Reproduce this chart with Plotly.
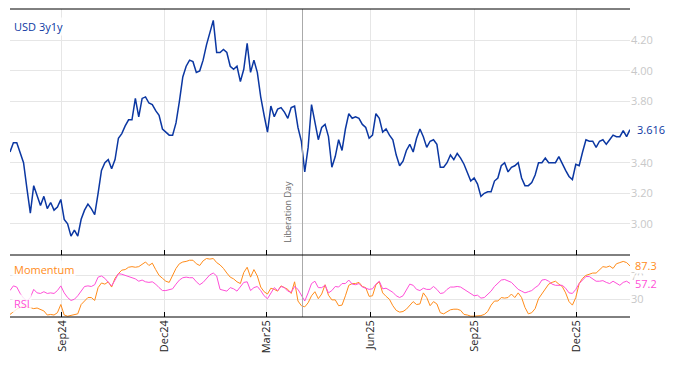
import pandas as pd
import plotly.graph_objects as go

# ---------------- data ----------------
start_date = "2024-07-17"
step = "3D"

usd_3y1y = [
    3.47, 3.53, 3.53, 3.47, 3.40, 3.23, 3.07, 3.25, 3.18, 3.12,
    3.18, 3.10, 3.14, 3.09, 3.11, 3.16, 3.03, 3.00, 2.92, 2.96,
    2.92, 3.03, 3.09, 3.13, 3.10, 3.06, 3.20, 3.35, 3.40, 3.42,
    3.36, 3.42, 3.56, 3.59, 3.64, 3.68, 3.68, 3.82, 3.70, 3.82,
    3.83, 3.79, 3.78, 3.74, 3.71, 3.62, 3.60, 3.58,
    3.58, 3.66, 3.80, 3.96, 4.03, 4.07, 4.06, 3.99, 4.00, 4.07,
    4.17, 4.26, 4.33, 4.12, 4.12, 4.14, 4.12, 4.03, 4.01, 4.03,
    3.93, 4.01, 4.18, 3.99, 4.07, 3.99, 3.83, 3.71, 3.60, 3.77,
    3.70, 3.75, 3.76, 3.73, 3.69, 3.76, 3.77, 3.63, 3.54, 3.34,
    3.50, 3.78, 3.66, 3.55, 3.63,
    3.65, 3.57, 3.37, 3.44, 3.55, 3.48, 3.62, 3.72, 3.69, 3.70,
    3.69, 3.65, 3.63, 3.56, 3.58, 3.72, 3.69, 3.60, 3.62, 3.58,
    3.55, 3.45, 3.38, 3.41, 3.48, 3.52, 3.47, 3.56, 3.62, 3.57,
    3.50, 3.54, 3.55, 3.52, 3.37, 3.37, 3.40, 3.45, 3.42, 3.46,
    3.43, 3.39, 3.33, 3.28, 3.30, 3.26,
    3.18, 3.20, 3.21, 3.21, 3.28, 3.30, 3.38, 3.40, 3.34, 3.37,
    3.38, 3.40, 3.30, 3.25, 3.25, 3.27, 3.32, 3.40, 3.40, 3.43,
    3.40, 3.40, 3.40, 3.44, 3.39, 3.35, 3.31, 3.29, 3.39, 3.38,
    3.47, 3.55, 3.54, 3.54, 3.50, 3.54, 3.55, 3.52, 3.55, 3.58,
    3.57, 3.57, 3.61, 3.57, 3.616,
]

momentum = [
    4, 9, 13, 16, 19, 17, 16, 14, 15, 12,
    10, 3, 4, 3, 7, 21, 3, 1, 2, 3,
    5, 21, 28, 33, 33, 28, 50, 58, 56, 60,
    51, 66, 74, 80, 81, 85, 86, 85, 86, 90,
    94, 88, 92, 81, 71, 66, 61, 59, 70, 83,
    91, 94, 95, 97, 97, 91, 88, 96, 100, 99,
    100, 93, 89, 83, 75, 68, 65, 60, 57, 76,
    85, 68, 81, 70, 51, 43, 39, 49, 47, 44,
    53, 50, 47, 40, 60, 27, 19, 17, 24, 36,
    43, 31, 39,
    55, 37, 29, 29, 19, 20, 36, 54, 57, 57,
    59, 52, 50, 35, 36, 55, 60, 41, 35, 30,
    19, 11, 8, 9, 13, 19, 26, 21, 22, 41,
    33, 19, 26, 22, 7, 5, 9, 12, 13, 13,
    11, 4, 3, 1, 1, 1, 2, 4, 9, 20,
    27, 27, 33, 32, 33, 39, 33, 41, 33, 16,
    5, 7, 14, 31, 40, 48, 56, 59, 61, 56,
    52, 41, 26, 20, 33, 57, 66, 71, 73, 75,
    75, 81, 86, 85, 87, 83, 91, 93, 95, 93,
    87.3,
]

rsi = [
    45, 53, 51, 40, 32, 27, 33, 47, 41, 40,
    43, 40, 41, 40, 45, 53, 41, 33, 28, 30,
    36, 43, 52, 53, 52, 55, 68, 70, 66, 59,
    53, 63, 74, 73, 71, 69, 66, 65, 61, 63,
    60, 59, 60, 56, 50, 45, 45, 46, 48, 56,
    63, 67, 68, 67, 67, 60, 55, 59, 66, 72,
    75, 70, 47, 45, 44, 50, 48, 44, 51, 59,
    60, 45, 50, 52, 45, 36, 31, 40, 50, 45,
    52, 50, 44, 42, 52, 47, 36, 27, 41, 57,
    61, 50, 50,
    54, 41, 45, 52, 51, 57, 57, 63, 56, 55,
    57, 51, 49, 47, 48, 56, 61, 48, 49, 46,
    42, 36, 33, 36, 45, 56, 54, 47, 45, 49,
    47, 47, 52, 47, 40, 41, 47, 51, 51, 52,
    51, 47, 43, 40, 36, 37, 32, 33, 39, 44,
    52, 58, 63, 64, 61, 59, 53, 47, 44, 41,
    43, 45, 50, 54, 63, 64, 61, 56, 54, 54,
    54, 49, 41, 40, 47, 57, 64, 69, 69, 65,
    61, 61, 62, 59, 57, 61, 58, 54, 59, 61,
    57.2,
]

x_tick_dates = ["2024-09-01", "2024-12-01", "2025-03-01", "2025-06-01", "2025-09-01", "2025-12-01"]
x_tick_labels = ["Sep24", "Dec24", "Mar25", "Jun25", "Sep25", "Dec25"]
y_ticks = [3.0, 3.2, 3.4, 3.6, 3.8, 4.0, 4.2]
# the 3.60 label is hidden behind the last-value tag in the reference
y_tick_labels = ["3.00", "3.20", "3.40", "", "3.80", "4.00", "4.20"]
y2_ticks = [30, 70]
y2_tick_labels = ["30", "70"]
event_date = "2025-04-02"
event_label = "Liberation Day"

dates = pd.date_range(start_date, periods=len(usd_3y1y), freq=step)

# ---------------- style ----------------
BLUE = "#0b37a2"
ORANGE = "#ff8c1a"
MAGENTA = "#ff4fd8"
GRID = "#e6e6e6"
TICKGREY = "#c8c8c8"
FONT = "Open Sans"
LABEL_BG = "rgba(255,255,255,0.8)"

fig = go.Figure()
fig.add_trace(go.Scatter(x=dates, y=usd_3y1y, mode="lines", line=dict(color=BLUE, width=1.5),
                         xaxis="x", yaxis="y", showlegend=False))
fig.add_trace(go.Scatter(x=dates, y=momentum, mode="lines", line=dict(color=ORANGE, width=1),
                         xaxis="x2", yaxis="y2", showlegend=False))
fig.add_trace(go.Scatter(x=dates, y=rsi, mode="lines", line=dict(color=MAGENTA, width=1),
                         xaxis="x2", yaxis="y2", showlegend=False))

split = (317 - 255) / (317 - 9)
xr = [dates[0], dates[-1]]

common_x = dict(range=xr, tickvals=x_tick_dates, showgrid=True, gridcolor=GRID, gridwidth=1,
                showline=False, ticks="inside", ticklen=5, tickcolor="black", zeroline=False)

hline = lambda yy: dict(type="line", xref="paper", yref="paper", x0=0, x1=1, y0=yy, y1=yy,
                        line=dict(color="black", width=1), layer="above")

fig.update_layout(
    width=674, height=366,
    margin=dict(l=2, r=52, t=1, b=57),
    paper_bgcolor="white", plot_bgcolor="white",
    font=dict(family=FONT, size=11),
    xaxis=dict(domain=[0, 1], anchor="y", showticklabels=False, **common_x),
    xaxis2=dict(domain=[0, 1], anchor="y2", matches="x", ticktext=x_tick_labels, tickangle=-90,
                tickfont=dict(color="#222222", size=11, family=FONT), **common_x),
    yaxis=dict(domain=[split, 1], anchor="x", side="right", range=[2.797, 4.404],
               tickvals=y_ticks, ticktext=y_tick_labels,
               tickfont=dict(color=TICKGREY, size=11), showgrid=True, gridcolor=GRID,
               zeroline=False, showline=False, ticks=""),
    yaxis2=dict(domain=[0, split], anchor="x2", side="right", range=[-0.4, 106],
                tickvals=y2_ticks, ticktext=y2_tick_labels,
                tickfont=dict(color=TICKGREY, size=11), showgrid=True, gridcolor=GRID,
                zeroline=False, showline=False, ticks=""),
    shapes=[
        dict(type="line", xref="x", yref="paper", x0=event_date, x1=event_date, y0=0, y1=1,
             line=dict(color="#aaaaaa", width=1), layer="above"),
        hline(0), hline(split), hline(1),
    ],
    annotations=[
        dict(text="USD 3y1y", xref="paper", yref="paper", x=0, y=1, xanchor="left", yanchor="top",
             xshift=2, yshift=-8, showarrow=False, font=dict(color=BLUE, size=11), bgcolor=LABEL_BG),
        dict(text="Momentum", xref="paper", yref="paper", x=0, y=split, xanchor="left", yanchor="top",
             xshift=2, yshift=-5, showarrow=False, font=dict(color=ORANGE, size=11), bgcolor=LABEL_BG),
        dict(text="RSI", xref="paper", yref="paper", x=0, y=0, xanchor="left", yanchor="bottom",
             xshift=2, yshift=4, showarrow=False, font=dict(color=MAGENTA, size=11), bgcolor=LABEL_BG),
        dict(text=event_label, xref="x", yref="y", x=event_date, y=2.797, xanchor="right", yanchor="bottom",
             xshift=-7, yshift=10, textangle=-90, showarrow=False, font=dict(color="#666666", size=9)),
        dict(text=f"{usd_3y1y[-1]:.3f}", xref="paper", yref="y", x=1, y=usd_3y1y[-1], xanchor="left",
             xshift=4, showarrow=False, font=dict(color=BLUE, size=11), bgcolor="white", borderpad=2),
        dict(text=f"{momentum[-1]:.1f}", xref="paper", yref="y2", x=1, y=momentum[-1], xanchor="left",
             xshift=4, showarrow=False, font=dict(color=ORANGE, size=11), bgcolor="white", borderpad=0),
        dict(text=f"{rsi[-1]:.1f}", xref="paper", yref="y2", x=1, y=rsi[-1], xanchor="left",
             xshift=4, showarrow=False, font=dict(color=MAGENTA, size=11), bgcolor="white", borderpad=0),
    ],
)

fig.write_html("out.html")
